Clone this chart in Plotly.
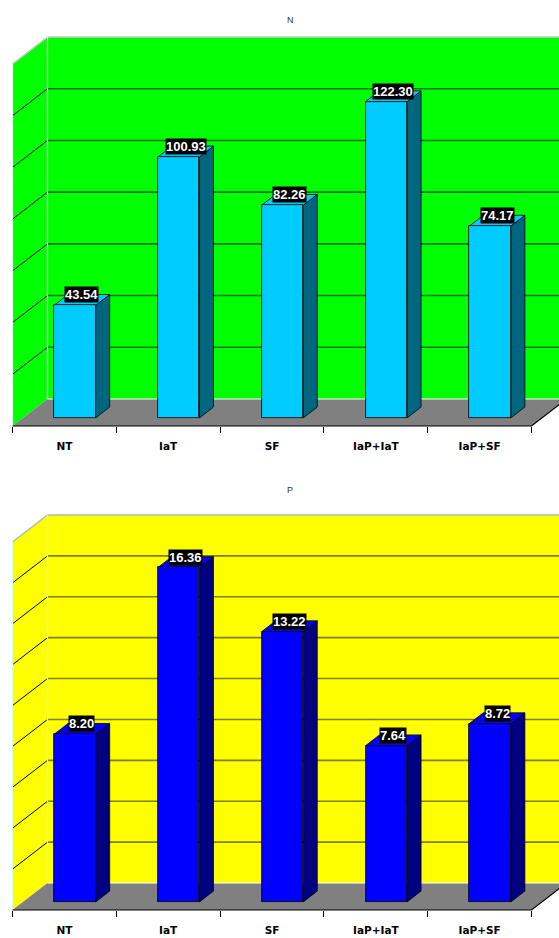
import plotly.graph_objects as go

# ---------------- data ----------------
categories = ["NT", "IaT", "SF", "IaP+IaT", "IaP+SF"]
n_values = [43.54, 100.93, 82.26, 122.30, 74.17]
p_values = [8.20, 16.36, 13.22, 7.64, 8.72]
n_axis_max, n_axis_step = 140, 20
p_axis_max, p_axis_step = 18, 2

# ---------------- geometry (pixels) ----------------
W, H = 559, 938
CAT_PX = 103.8          # width of one category on the front edge
X0_PX = 64.4            # pixel of first category centre on the front edge
DEPTH_PX = (35.0, 27.0) # oblique depth of the floor (dx, dy)
BAR_W = 0.4
T_FRONT, T_BACK = 0.3, 0.7

panels = [
    dict(title="N", values=n_values, vmax=n_axis_max, step=n_axis_step,
         front_px=426, top_px=37, title_px=12.5, dom=(30, 429),
         wall="#00FF00", grid="rgba(0,0,0,0.55)", bar="#00CCFF", side="#006680",
         topc="#00CCFF", edge="#C8C8C8", vedge="#E8FFE8"),
    dict(title="P", values=p_values, vmax=p_axis_max, step=p_axis_step,
         front_px=910, top_px=515, title_px=490, dom=(508, 913),
         wall="#FFFF00", grid="rgba(0,0,0,0.5)", bar="#0000FF", side="#000080",
         topc="#0000FF", edge="#A8C0A8", vedge="#D8FFF0"),
]

fig = go.Figure()
shapes = []
annotations = []


def path(pts):
    return "M " + " L ".join(f"{x:.4f},{y:.4f}" for x, y in pts) + " Z"


n = len(categories)
for k, p in enumerate(panels):
    suf = "" if k == 0 else str(k + 1)
    xa, ya = "x" + suf, "y" + suf
    s = (p["front_px"] - DEPTH_PX[1] - p["top_px"]) / p["vmax"]
    dX = DEPTH_PX[0] / CAT_PX
    dY = DEPTH_PX[1] / s
    vmax = p["vmax"]
    xl, xr = -0.5, n - 0.5

    # front faces of bars
    fig.add_trace(go.Bar(
        x=[i + T_FRONT * dX for i in range(n)], y=p["values"],
        base=T_FRONT * dY, width=BAR_W,
        marker=dict(color=p["bar"], line=dict(color="black", width=0.8)),
        xaxis=xa, yaxis=ya, showlegend=False, hoverinfo="skip"))

    def sh(pts, fill, line="rgba(0,0,0,0)", lw=0, closed=True):
        if closed:
            d = path(pts)
        else:
            d = "M " + " L ".join(f"{x:.4f},{y:.4f}" for x, y in pts)
        shapes.append(dict(type="path", path=d, xref=xa, yref=ya,
                           fillcolor=fill, line=dict(color=line, width=lw), layer="below"))

    # back wall
    sh([(xl + dX, dY), (xr + dX + 1, dY), (xr + dX + 1, vmax + dY), (xl + dX, vmax + dY)], p["wall"])
    # left wall
    sh([(xl, 0), (xl + dX, dY), (xl + dX, vmax + dY), (xl, vmax)], p["wall"])
    # floor
    sh([(xl, 0), (xr, 0), (xr + dX, dY), (xl + dX, dY)], "#808080")
    # gridlines
    v = p["step"]
    while v < vmax - 1e-9:
        sh([(xl + dX, v + dY), (xr + dX + 1, v + dY)], None, p["grid"], 1.6, closed=False)
        sh([(xl, v), (xl + dX, v + dY)], None, "black", 1, closed=False)
        v += p["step"]
    # wall borders
    sh([(xl, vmax), (xl + dX, vmax + dY), (xr + dX + 1, vmax + dY)], None, p["edge"], 1.5, closed=False)
    sh([(xl + dX, dY), (xl + dX, vmax + dY)], None, p["vedge"], 1.2, closed=False)
    sh([(xl, 0), (xl, vmax)], None, p["vedge"], 1.2, closed=False)
    sh([(xl + dX, dY), (xr + dX + 1, dY)], None, "white", 1, closed=False)
    # front edge of floor
    sh([(xl, 0), (xr, 0), (xr + dX, dY)], None, "black", 1.2, closed=False)

    # side and top faces of bars
    depth = T_BACK - T_FRONT
    for i, val in enumerate(p["values"]):
        cx = i + T_FRONT * dX
        bl, br = cx - BAR_W / 2, cx + BAR_W / 2
        b0 = T_FRONT * dY
        top = val + T_FRONT * dY
        ox, oy = depth * dX, depth * dY
        sh([(br, b0), (br + ox, b0 + oy), (br + ox, top + oy), (br, top)], p["side"], "black", 0.8)
        sh([(bl, top), (br, top), (br + ox, top + oy), (bl + ox, top + oy)], p["topc"], "black", 0.8)
        annotations.append(dict(
            x=i + 0.5 * (T_FRONT + T_BACK) * dX, y=val + 0.5 * (T_FRONT + T_BACK) * dY,
            xref=xa, yref=ya, text=f"{val:.2f}", showarrow=False, yshift=5,
            bgcolor="black", borderpad=0,
            font=dict(family="Liberation Sans, Arial", size=13, color="white", weight="bold")))

    # title
    annotations.append(dict(x=290 / W, y=1 - p["title_px"] / H, xref="paper", yref="paper",
                            text=p["title"], showarrow=False,
                            font=dict(family="Liberation Sans, Arial", size=9, color="#333333")))

    top_px, bot_px = p["dom"]
    axis_common = dict(showgrid=False, zeroline=False, showline=False)
    fig.layout["xaxis" + suf] = dict(
        range=[(0 - X0_PX) / CAT_PX, (W - X0_PX) / CAT_PX],
        domain=[0, 1], anchor="free", position=1 - p["front_px"] / H,
        tickmode="array", tickvals=list(range(n)), ticktext=categories,
        ticks="outside", ticklen=10, tickcolor="rgba(0,0,0,0)",
        tickfont=dict(family="DejaVu Sans", size=10.5, color="black", weight="bold"),
        minor=dict(tickmode="array", tickvals=[i - 0.5 for i in range(n + 1)],
                   ticks="outside", ticklen=6, tickcolor="black", tickwidth=1),
        fixedrange=True, **axis_common)
    fig.layout["yaxis" + suf] = dict(
        range=[(p["front_px"] - bot_px) / s, (p["front_px"] - top_px) / s],
        domain=[1 - bot_px / H, 1 - top_px / H], anchor=xa,
        showticklabels=False, ticks="", fixedrange=True, **axis_common)

fig.update_layout(
    width=W, height=H, margin=dict(l=0, r=0, t=0, b=0),
    paper_bgcolor="white", plot_bgcolor="rgba(0,0,0,0)",
    shapes=shapes, annotations=annotations, showlegend=False, bargap=0)

fig.write_html("out.html")
